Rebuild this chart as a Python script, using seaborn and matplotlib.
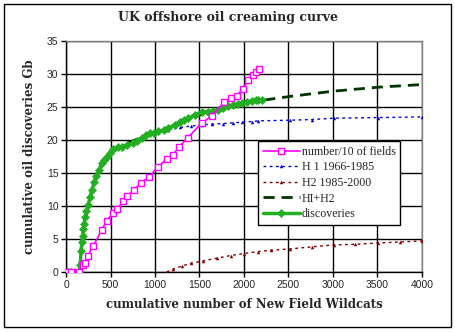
import matplotlib
matplotlib.use("Agg")
import matplotlib.pyplot as plt
import matplotlib.patches as mpatches
import seaborn as sns
import pandas as pd

# ---- data ----
fields_x = [26, 60, 150, 195, 213, 243, 307, 400, 457, 532, 570, 645, 682, 764, 839,
            936, 1030, 1131, 1198, 1273, 1367, 1525, 1637, 1779, 1850, 1918, 1985,
            2049, 2097, 2130, 2169]
fields_y = [0, 0, 0, 1.0, 1.4, 2.4, 4.0, 6.3, 7.8, 9.0, 9.5, 10.7, 11.5, 12.4, 13.5,
            14.4, 15.9, 17.1, 17.7, 19.0, 20.3, 22.6, 23.6, 25.8, 26.4, 26.7, 27.7,
            29.1, 29.8, 30.3, 30.8]

h1_x = [150, 170, 185, 210, 250, 315, 400, 468, 551, 645, 757, 850, 945, 1037, 1150,
        1280, 1400, 1525, 1637, 1768, 1880, 1974, 2087, 2160, 2517, 2760, 3006, 3510, 4000]
h1_y = [0, 3.0, 5.3, 7.3, 10.2, 13.6, 16.4, 17.5, 18.6, 19.2, 19.9, 20.4, 20.9, 21.2, 21.5,
        21.9, 22.1, 22.3, 22.4, 22.5, 22.6, 22.7, 22.8, 22.9, 23.0, 23.1, 23.3, 23.4, 23.5]

h2_x = [1131, 1200, 1300, 1400, 1543, 1700, 1850, 2000, 2160, 2300, 2517, 2760, 3006,
        3250, 3510, 3750, 4000]
h2_y = [0, 0.4, 0.9, 1.3, 1.7, 2.1, 2.5, 2.8, 3.1, 3.3, 3.5, 3.8, 4.1, 4.2, 4.4, 4.55, 4.7]

sum_x = [150, 170, 185, 210, 250, 315, 400, 468, 551, 645, 757, 850, 945, 1037, 1150,
         1280, 1400, 1525, 1637, 1768, 1880, 1974, 2087, 2200, 2517, 2760, 3006, 3510, 4000]
sum_y = [0, 3.0, 5.3, 7.3, 10.2, 13.6, 16.4, 17.5, 18.6, 19.2, 19.9, 20.4, 20.9, 21.2, 21.6,
         22.6, 23.2, 23.9, 24.3, 24.8, 25.2, 25.5, 25.8, 26.0, 26.6, 27.0, 27.4, 28.0, 28.4]

disc_x = [26, 60, 100, 150, 160, 169, 178, 187, 195, 202, 215, 230, 251, 270, 290, 318,
          340, 370, 408, 430, 457, 490, 532, 580, 625, 690, 757, 800, 850, 900, 945, 990,
          1037, 1100, 1150, 1220, 1280, 1330, 1375, 1450, 1525, 1590, 1655, 1710, 1768,
          1820, 1880, 1930, 1974, 2030, 2087, 2130, 2160, 2200]
disc_y = [0, 0, 0, 0, 1.0, 3.2, 4.5, 5.5, 6.5, 7.2, 8.3, 9.2, 10.2, 11.3, 12.4, 13.7,
          14.6, 15.5, 16.5, 17.0, 17.5, 18.0, 18.7, 18.9, 19.0, 19.2, 19.6, 19.9, 20.3,
          20.7, 21.0, 21.1, 21.3, 21.5, 21.8, 22.3, 22.8, 23.0, 23.3, 23.8, 24.3, 24.3,
          24.4, 24.6, 24.9, 25.1, 25.3, 25.5, 25.6, 25.8, 25.9, 26.0, 26.0, 26.0]

labels = ["number/10 of fields", "H 1 1966-1985", "H2 1985-2000", "HI+H2", "discoveries"]
x_ticks = [0, 500, 1000, 1500, 2000, 2500, 3000, 3500, 4000]
y_ticks = [0, 5, 10, 15, 20, 25, 30, 35]

title = "UK offshore oil creaming curve"
xlabel = "cumulative number of New Field Wildcats"
ylabel = "cumulative oil discoveries Gb"

# ---- plot ----
sns.set_style("white")
plt.rcParams["font.family"] = ["DejaVu Serif"]

fig = plt.figure(figsize=(4.56, 3.32), dpi=100)
ax = fig.add_axes([66/456, 60/332, 356/456, 231/332])

kw = dict(ax=ax, estimator=None, sort=False)

sns.lineplot(x=h1_x, y=h1_y, color="#0000CC", linestyle=(0, (2, 2.5)), linewidth=1.0,
             marker="^", markersize=2.5, markeredgewidth=0, label=labels[1], zorder=3, **kw)
sns.lineplot(x=h2_x, y=h2_y, color="#800000", linestyle=(0, (2, 2.5)), linewidth=1.0,
             marker="^", markersize=2.5, markeredgewidth=0, label=labels[2], zorder=3, **kw)
sns.lineplot(x=sum_x, y=sum_y, color="#003300", linestyle=(0, (4, 2.5)), linewidth=2.0,
             label=labels[3], zorder=4, **kw)
sns.lineplot(x=disc_x, y=disc_y, color="#22B022", linewidth=2.5, marker="D",
             markersize=4.5, markeredgewidth=0.5, markeredgecolor="#22B022",
             label=labels[4], zorder=5, **kw)
sns.lineplot(x=fields_x, y=fields_y, color="#FF00FF", linewidth=1.2, marker="s",
             markersize=5, markerfacecolor="white", markeredgecolor="#FF00FF",
             markeredgewidth=1.0, label=labels[0], zorder=6, **kw)

ax.set_xlim(0, 4000)
ax.set_ylim(0, 35)
ax.set_xticks(x_ticks)
ax.set_yticks(y_ticks)
ax.grid(True, color="black", linewidth=1.0)
ax.set_axisbelow(True)
for s in ["top", "right"]:
    ax.spines[s].set_color("#808080")
    ax.spines[s].set_linewidth(1.0)
for s in ["left", "bottom"]:
    ax.spines[s].set_color("black")
    ax.spines[s].set_linewidth(1.0)
ax.tick_params(axis="both", direction="out", length=3.5, width=1, color="black",
               pad=2, labelsize=7.5, left=True, bottom=True)
for lab in ax.get_xticklabels() + ax.get_yticklabels():
    lab.set_fontfamily("Liberation Sans")

ax.set_xlabel(xlabel, fontsize=8.5, fontweight="bold", labelpad=6)
ax.set_ylabel(ylabel, fontsize=8.5, fontweight="bold", labelpad=8)
fig.text(0.5, 1 - 18/332, title, ha="center", va="center",
         fontsize=9, fontweight="bold")

handles, labs = ax.get_legend_handles_labels()
order = [labs.index(l) for l in labels]
leg = ax.legend([handles[i] for i in order], [labs[i] for i in order],
                loc="upper left", bbox_to_anchor=((258-66)/356, (272-141)/231),
                prop={"family": "Liberation Serif", "size": 8.6}, frameon=True,
                fancybox=False, edgecolor="black", framealpha=1, borderpad=0.4,
                handlelength=3.1, handletextpad=0.15, labelspacing=0.3,
                borderaxespad=0)
leg.get_frame().set_linewidth(1.0)

fig.patches.append(mpatches.Rectangle((4/456, 5/332), 447/456, 323/332,
                                      transform=fig.transFigure, fill=False,
                                      edgecolor="black", linewidth=1.0))

fig.savefig("out.png", dpi=100)
